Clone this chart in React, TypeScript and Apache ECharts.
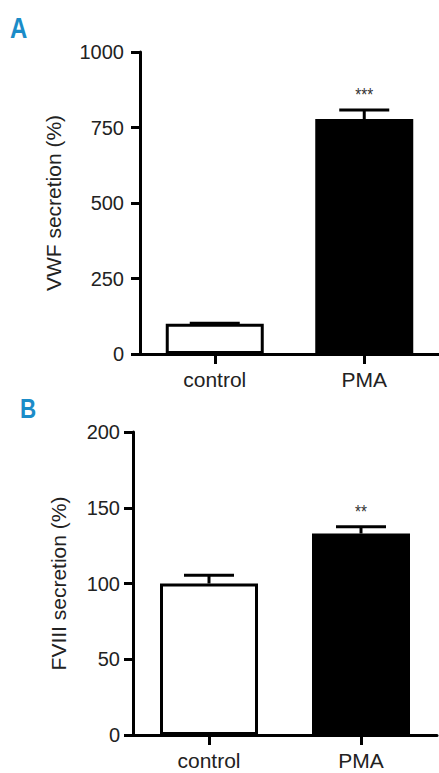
import React, { useEffect, useRef } from "react";
import * as echarts from "echarts";

const categories = ["control", "PMA"];
const vwfMeans = [100, 778];
const vwfUpper = [102, 808];
const vwfSig = ["", "***"];
const vwfAxis = { min: 0, max: 1000, interval: 250, name: "VWF secretion (%)" };
const fviiiMeans = [100, 133];
const fviiiUpper = [105.5, 137.5];
const fviiiSig = ["", "**"];
const fviiiAxis = { min: 0, max: 200, interval: 50, name: "FVIII secretion (%)" };
const panelLetters = ["A", "B"];

const FONT = "'Liberation Sans', Arial, sans-serif";
const BLUE = "#1b8cc8";

function barStyle(i: number) {
  return i === 0
    ? { color: "#ffffff", borderColor: "#000000", borderWidth: 3 }
    : { color: "#000000", borderColor: "#000000", borderWidth: 0 };
}

function errorSeries(idx: number, means: number[], upper: number[], sig: string[]) {
  return {
    type: "custom",
    xAxisIndex: idx,
    yAxisIndex: idx,
    z: 5,
    data: means.map((m, i) => [i, m, upper[i]]),
    renderItem: (params: any, api: any) => {
      const base = api.coord([api.value(0), api.value(1)]);
      const top = api.coord([api.value(0), api.value(2)]);
      const s = sig[params.dataIndex];
      const children: any[] = [
        {
          type: "line",
          shape: { x1: base[0], y1: base[1], x2: top[0], y2: top[1] },
          style: { stroke: "#000", lineWidth: 3 },
        },
        {
          type: "line",
          shape: { x1: top[0] - 25, y1: top[1], x2: top[0] + 25, y2: top[1] },
          style: { stroke: "#000", lineWidth: 3 },
        },
      ];
      if (s) {
        children.push({
          type: "text",
          x: top[0],
          y: top[1] - 15,
          scaleX: 0.85,
          style: {
            text: s,
            fill: "#333",
            font: `18px ${FONT}`,
            align: "center",
            verticalAlign: "middle",
          },
        });
      }
      return { type: "group", children };
    },
  };
}

export default function App() {
  const ref = useRef<HTMLDivElement>(null);
  useEffect(() => {
    if (!ref.current) return;
    const chart = echarts.init(ref.current, null, { renderer: "svg" });
    const axisLine = { show: true, lineStyle: { color: "#000", width: 3 } };
    const axisTick = { show: true, length: 9, lineStyle: { color: "#000", width: 3 } };
    const mkY = (idx: number, a: any, margin: number, gap: number) => ({
      type: "value",
      gridIndex: idx,
      min: a.min,
      max: a.max,
      interval: a.interval,
      name: a.name,
      nameLocation: "middle",
      nameRotate: 90,
      nameGap: gap,
      nameMoveOverlap: false,
      nameTextStyle: { fontFamily: FONT, fontSize: 21, color: "#222" },
      axisLine,
      axisTick,
      splitLine: { show: false },
      axisLabel: {
        fontFamily: FONT,
        fontSize: 20,
        color: "#222",
        margin,
        formatter: (v: number) => String(v),
      },
    });
    const mkX = (idx: number) => ({
      type: "category",
      gridIndex: idx,
      data: categories,
      axisLine,
      axisTick: { show: true, alignWithLabel: true, length: 10, lineStyle: { color: "#000", width: 3 } },
      axisLabel: { fontFamily: FONT, fontSize: 21, color: "#222", margin: 15 },
    });
    chart.setOption({
      animation: false,
      grid: [
        { left: 140, right: 0, top: 52, bottom: 773 - 354 },
        { left: 133, right: 2, top: 432, bottom: 773 - 735 },
      ],
      xAxis: [mkX(0), mkX(1)],
      yAxis: [mkY(0, vwfAxis, 16, 76), mkY(1, fviiiAxis, 13, 64)],
      series: [
        {
          type: "bar",
          xAxisIndex: 0,
          yAxisIndex: 0,
          barWidth: 98,
          data: vwfMeans.map((v, i) => ({ value: v, itemStyle: barStyle(i) })),
        },
        {
          type: "bar",
          xAxisIndex: 1,
          yAxisIndex: 1,
          barWidth: 98,
          data: fviiiMeans.map((v, i) => ({ value: v, itemStyle: barStyle(i) })),
        },
        errorSeries(0, vwfMeans, vwfUpper, vwfSig),
        errorSeries(1, fviiiMeans, fviiiUpper, fviiiSig),
      ],
      graphic: [
        {
          type: "text",
          left: 10,
          top: 12,
          scaleX: 0.8,
          style: { text: panelLetters[0], fill: BLUE, font: `bold 30px ${FONT}` },
        },
        {
          type: "text",
          left: 20,
          top: 394,
          scaleX: 0.8,
          style: { text: panelLetters[1], fill: BLUE, font: `bold 28px ${FONT}` },
        },
      ],
    });
    return () => chart.dispose();
  }, []);
  return (
    <div
      ref={ref}
      style={{ position: "fixed", left: 0, top: 0, width: 439, height: 773, background: "#fff" }}
    />
  );
}
